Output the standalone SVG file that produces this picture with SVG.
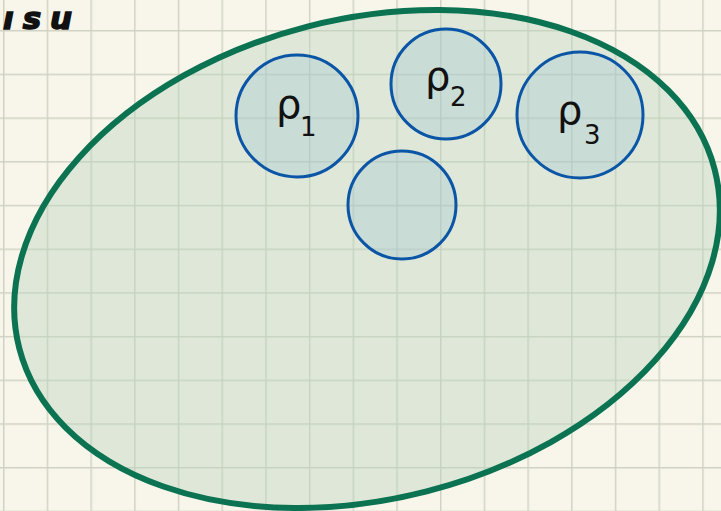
<svg xmlns="http://www.w3.org/2000/svg" width="721" height="511" viewBox="0 0 721 511">
<defs>
<pattern id="grid" x="3" y="30" width="43.7" height="43.7" patternUnits="userSpaceOnUse">
<path d="M0.75 0 V43.7 M0 0.75 H43.7" fill="none" stroke="#d0d3c3" stroke-width="1.5"/>
</pattern>
<style>
.set{fill:#b9d4be;fill-opacity:0.4;stroke:#0b7352;stroke-width:6}
.sub{fill:#9bbfd0;fill-opacity:0.3;stroke:#0a55a6;stroke-width:3}
.lbl{font-family:"DejaVu Sans","Liberation Sans",sans-serif;fill:#111111}
</style>
</defs>
<rect width="721" height="511" fill="#f8f6ea"/>
<rect width="721" height="511" fill="url(#grid)"/>
<text class="lbl" x="3" y="29" font-size="31" font-weight="bold" font-style="italic" letter-spacing="9" stroke="#111111" stroke-width="1.5">ısu</text>
<g id="outer">
<ellipse class="set" cx="367" cy="259" rx="359" ry="240" transform="rotate(-14.4 367 259)"/>
</g>
<g id="rho1">
<circle class="sub" cx="297" cy="116" r="61"/>
<text class="lbl" x="276" y="118" font-size="40">ρ</text>
<text class="lbl" x="300" y="136" font-size="26">1</text>
</g>
<g id="rho2">
<circle class="sub" cx="446" cy="84" r="55"/>
<text class="lbl" x="425" y="90" font-size="40">ρ</text>
<text class="lbl" x="450" y="106" font-size="26">2</text>
</g>
<g id="rho3">
<circle class="sub" cx="580" cy="115" r="63"/>
<text class="lbl" x="557" y="124" font-size="40">ρ</text>
<text class="lbl" x="584" y="144" font-size="26">3</text>
</g>
<g id="empty">
<circle class="sub" cx="402" cy="205" r="54"/>
</g>
<g id="connectors"/>
</svg>
